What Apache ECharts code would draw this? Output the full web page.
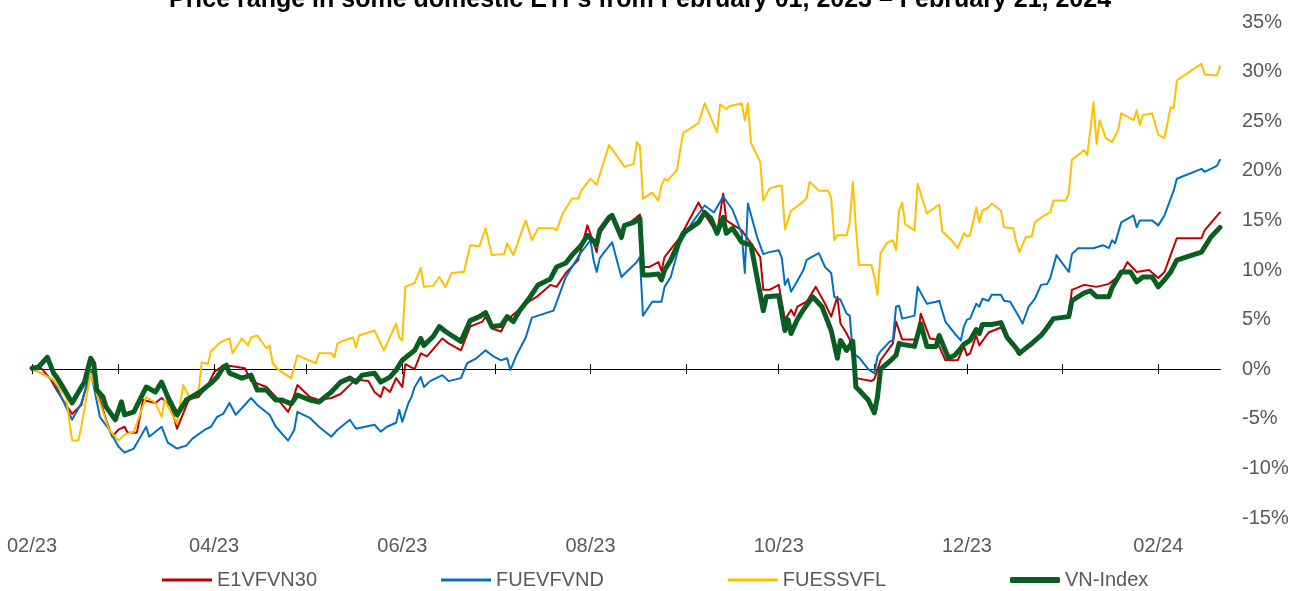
<!DOCTYPE html>
<html>
<head>
<meta charset="utf-8">
<title>ETF price range</title>
<script src="https://cdn.jsdelivr.net/npm/echarts@6/dist/echarts.min.js"></script>
<style>
	html, body { margin: 0; padding: 0; background: #fff; }
	#chart { width: 1299px; height: 591px; }
</style>
</head>
<body>
<div id="chart"></div>
<script>
// x values are day offsets counted from 01/02/2023, values are % change
var START = new Date(2023, 1, 1).getTime();
var DAY = 86400000;

var seriesNames = ["E1VFVN30", "FUEVFVND", "FUESSVFL", "VN-Index"];
var monthTicks = [0, 28, 59, 89, 120, 150, 181, 212, 242, 273, 303, 334, 365];
var labelTicks = [0, 59, 120, 181, 242, 303, 365];

var e1vfvn30 = [
	[0,-0.1],[3,0.1],[6,-1.0],[8,-2.1],[11,-3.6],[13,-4.5],[16,-3.6],[17,-2.4],[20,0.2],[21,-2.0],
	[24,-5.1],[26,-6.8],[28,-6.1],[30,-5.8],[31,-6.4],[34,-6.4],[36,-3.1],[40,-3.4],[42,-2.9],[45,-3.7],
	[47,-6.0],[50,-3.7],[51,-3.0],[54,-2.8],[57,-1.6],[59,-0.3],[62,0.4],[65,0.3],[69,0.1],[71,-1.2],
	[76,-1.8],[79,-2.8],[83,-4.3],[84,-3.6],[86,-1.6],[90,-2.8],[93,-3.1],[97,-2.9],[100,-2.5],[105,-1.0],
	[106,-1.1],[109,-1.2],[111,-2.3],[113,-2.8],[114,-1.8],[116,-2.3],[118,-0.9],[120,-1.8],[121,0.5],[124,0.0],
	[126,1.6],[128,1.3],[133,3.1],[135,2.6],[139,1.9],[142,4.3],[146,4.8],[147,5.3],[149,4.1],[152,3.8],
	[154,5.0],[161,6.8],[164,7.4],[168,8.5],[170,8.3],[173,9.7],[177,11.0],[180,14.5],[183,11.8],[184,13.7],
	[187,15.0],[188,15.3],[191,13.1],[192,14.3],[197,15.6],[198,10.3],[200,10.3],[203,10.8],[204,9.9],[205,11.3],
	[210,13.3],[216,16.8],[218,15.6],[222,13.7],[224,17.7],[225,15.0],[230,14.0],[233,12.7],[236,11.3],[237,8.0],
	[239,8.0],[242,8.5],[244,5.0],[246,6.0],[247,5.4],[248,6.3],[251,6.8],[254,8.3],[257,6.6],[259,5.3],
	[261,7.3],[262,4.6],[264,3.6],[265,3.0],[267,-0.9],[272,-1.2],[273,-1.0],[275,0.9],[279,2.6],[280,4.8],
	[282,3.0],[287,3.0],[288,5.6],[291,3.1],[293,3.0],[296,0.9],[300,0.9],[302,2.3],[303,1.4],[304,1.6],
	[306,3.4],[307,2.4],[310,3.7],[314,4.2],[316,3.2],[320,1.6],[324,2.4],[327,3.4],[331,5.1],[336,5.3],
	[337,8.0],[341,8.5],[345,8.3],[349,8.6],[353,9.6],[355,10.8],[358,9.8],[362,10.0],[365,9.2],[367,9.8],
	[369,11.5],[371,13.2],[379,13.2],[380,14.0],[385,15.8]
];

var fuevfvnd = [
	[0,0.0],[3,-0.4],[7,-1.1],[11,-3.8],[13,-5.1],[16,-3.4],[19,-0.2],[22,-4.8],[25,-6.1],[28,-7.8],
	[30,-8.4],[33,-8.0],[37,-5.8],[38,-6.8],[42,-5.8],[44,-7.4],[47,-8.0],[50,-7.7],[52,-7.0],[56,-6.1],
	[58,-5.8],[60,-4.8],[62,-4.5],[64,-3.4],[66,-4.6],[71,-2.9],[73,-3.6],[77,-4.6],[79,-5.8],[83,-7.2],
	[85,-6.1],[86,-4.3],[90,-4.9],[93,-5.8],[97,-6.8],[99,-6.1],[103,-5.1],[105,-6.0],[111,-5.6],[113,-6.3],
	[115,-5.8],[118,-5.4],[119,-4.1],[120,-5.3],[122,-3.4],[123,-2.8],[124,-1.8],[126,-0.8],[127,-1.8],[129,-1.2],
	[133,-0.6],[135,-1.2],[139,-0.9],[141,0.6],[144,1.1],[147,1.9],[149,1.4],[152,0.9],[154,1.1],[155,-0.1],
	[157,1.4],[160,3.2],[162,5.2],[167,5.7],[169,5.9],[171,7.6],[173,9.3],[175,10.3],[178,11.8],[181,13.0],
	[182,11.0],[183,9.8],[184,11.2],[188,12.8],[191,9.3],[196,10.8],[197,11.3],[198,5.4],[201,6.8],[204,6.8],
	[205,8.3],[207,9.3],[210,12.7],[214,14.8],[218,16.5],[221,15.8],[224,17.4],[227,16.1],[230,13.7],[231,9.7],
	[232,16.7],[235,13.3],[237,11.6],[239,11.8],[242,12.0],[243,11.2],[244,8.5],[245,9.1],[246,7.8],[248,8.9],
	[250,10.0],[251,11.0],[252,11.2],[255,11.7],[257,10.3],[259,9.7],[260,7.3],[262,7.0],[264,5.6],[265,5.4],
	[266,1.6],[268,1.2],[271,0.0],[273,-0.4],[274,1.3],[275,1.8],[278,2.8],[279,2.9],[280,6.3],[281,6.4],
	[282,5.1],[286,5.4],[287,8.3],[290,6.6],[293,6.8],[294,6.9],[296,4.8],[299,3.6],[301,2.9],[302,4.3],
	[303,5.0],[304,5.1],[306,6.6],[307,6.3],[308,7.1],[310,6.9],[311,7.5],[314,7.5],[315,6.9],[317,6.8],
	[320,5.2],[321,4.6],[323,6.3],[325,7.1],[327,8.5],[329,8.6],[330,9.2],[332,11.5],[336,9.8],[337,11.6],
	[339,12.2],[344,12.2],[347,12.5],[349,12.2],[350,13.0],[351,12.7],[353,14.8],[357,15.5],[358,14.3],[359,15.0],
	[363,15.0],[365,14.5],[367,15.5],[370,18.0],[371,19.2],[379,20.2],[380,19.9],[384,20.5],[385,21.1]
];

var fuessvfl = [
	[0,0.0],[3,-0.4],[7,-1.1],[11,-2.8],[13,-7.2],[15,-7.2],[16,-5.8],[19,-0.4],[21,-2.5],[25,-6.1],
	[28,-7.2],[30,-6.6],[33,-6.3],[37,-2.8],[40,-3.4],[42,-4.8],[43,-3.1],[47,-5.5],[49,-1.6],[51,-2.8],
	[54,-2.1],[55,0.7],[57,0.5],[58,1.8],[60,2.4],[61,2.7],[64,3.1],[65,1.6],[68,3.1],[70,2.4],
	[71,3.2],[73,3.4],[76,2.1],[77,2.4],[78,0.6],[80,-0.1],[84,-0.9],[86,1.4],[92,0.6],[93,1.6],
	[97,1.6],[98,1.2],[99,2.6],[101,2.9],[104,3.2],[105,2.2],[106,3.4],[111,3.9],[114,1.9],[118,4.6],
	[119,3.2],[120,2.9],[121,8.3],[124,8.7],[126,10.2],[127,8.3],[130,8.4],[132,9.3],[134,8.3],[136,9.7],
	[139,9.8],[140,9.8],[142,12.5],[145,12.4],[147,14.2],[149,11.5],[153,11.6],[154,12.7],[156,11.5],[160,15.0],
	[162,13.0],[164,14.2],[169,14.2],[170,14.0],[172,15.7],[174,16.7],[175,17.2],[177,17.2],[178,18.0],[181,19.2],
	[183,18.6],[187,22.6],[190,21.3],[192,20.4],[195,20.7],[196,22.9],[197,22.5],[198,17.2],[201,17.8],[203,17.0],
	[204,18.5],[205,19.2],[206,19.0],[209,20.1],[211,23.8],[216,24.8],[218,26.8],[222,23.9],[223,26.7],[225,26.2],
	[226,26.5],[230,26.8],[231,25.1],[232,26.8],[233,22.8],[236,20.9],[237,17.0],[239,18.2],[242,18.5],[243,18.5],
	[244,14.1],[246,16.0],[248,16.4],[251,17.2],[252,18.9],[255,18.0],[258,18.0],[259,17.3],[260,13.0],[261,13.5],
	[264,13.5],[265,14.8],[266,18.9],[267,14.3],[268,10.5],[272,10.5],[273,9.3],[274,7.5],[275,11.7],[277,12.7],
	[279,13.0],[280,12.0],[281,16.0],[282,16.8],[283,14.6],[286,14.0],[287,18.7],[290,15.7],[294,16.6],[295,13.9],
	[298,13.0],[300,12.2],[302,13.7],[303,13.4],[304,13.5],[306,16.3],[307,14.8],[308,16.0],[310,16.3],[311,16.7],
	[314,16.0],[315,14.3],[318,14.2],[319,12.8],[320,11.8],[322,13.3],[324,13.4],[325,14.8],[328,15.5],[330,15.8],
	[331,17.0],[335,17.0],[336,17.7],[337,21.1],[341,22.1],[342,21.6],[344,26.9],[345,22.7],[346,25.1],[348,23.3],
	[350,22.9],[352,24.1],[353,25.8],[357,25.1],[358,26.1],[359,24.6],[360,25.6],[363,25.8],[365,23.6],[367,23.3],
	[369,26.4],[370,26.3],[371,29.1],[379,30.8],[380,29.7],[384,29.6],[385,30.5]
];

var vnIndex = [
	[0,0.1],[2,0.2],[5,1.2],[7,-0.4],[8,-0.8],[10,-1.8],[13,-3.4],[16,-1.8],[17,-1.3],[19,1.1],
	[20,0.6],[21,-2.1],[23,-2.8],[24,-3.8],[27,-5.1],[29,-3.3],[30,-4.6],[33,-4.3],[37,-1.8],[40,-2.3],
	[42,-1.3],[44,-2.8],[47,-4.6],[50,-3.1],[54,-2.4],[58,-1.4],[60,-0.8],[62,0.2],[63,0.4],[64,-0.4],
	[68,-0.9],[71,-0.6],[73,-2.1],[76,-2.1],[79,-3.1],[81,-3.1],[84,-3.5],[86,-2.6],[90,-3.1],[93,-3.3],
	[97,-2.3],[100,-1.3],[103,-0.9],[105,-1.3],[107,-0.6],[111,-0.4],[113,-1.3],[116,-0.8],[118,-0.1],[120,0.9],
	[122,1.4],[124,1.9],[126,3.1],[127,2.4],[130,3.3],[132,4.3],[134,3.8],[139,2.8],[142,4.9],[145,5.3],
	[147,5.7],[149,4.3],[152,4.4],[154,5.3],[156,4.8],[158,5.9],[161,7.1],[164,8.5],[168,9.1],[170,10.3],
	[173,10.7],[175,11.5],[178,12.5],[180,13.5],[183,12.6],[184,14.0],[187,15.3],[188,15.5],[191,13.3],[192,14.5],
	[195,14.8],[197,15.2],[198,9.5],[200,9.5],[203,9.6],[204,9.0],[205,10.0],[207,11.0],[211,13.7],[216,14.8],
	[218,15.8],[220,15.2],[222,13.7],[224,15.3],[225,13.7],[227,14.2],[230,12.8],[233,12.5],[237,5.9],[238,7.3],
	[242,7.4],[244,3.9],[245,5.0],[246,3.6],[248,5.0],[250,6.0],[253,7.3],[256,6.3],[259,3.9],[261,1.1],
	[262,2.9],[264,1.9],[266,2.8],[267,-1.8],[268,-2.1],[271,-3.1],[273,-4.4],[274,-2.8],[275,0.0],[278,0.8],
	[280,1.4],[281,2.6],[282,2.5],[286,2.3],[288,4.6],[290,2.3],[293,2.3],[294,3.4],[297,1.1],[299,1.4],
	[301,2.1],[302,2.5],[304,2.9],[306,4.0],[307,3.6],[308,4.5],[311,4.5],[314,4.7],[316,3.2],[319,2.1],
	[320,1.6],[324,2.6],[327,3.4],[329,4.2],[331,5.1],[336,5.3],[337,6.9],[341,7.7],[343,7.9],[345,7.3],
	[349,7.3],[350,8.2],[353,9.8],[356,9.8],[358,8.8],[360,9.3],[363,9.3],[365,8.3],[367,9.0],[369,9.8],
	[371,11.0],[379,11.8],[382,13.3],[385,14.3]
];

var colors = ["#C00000", "#0070C0", "#FFC000", "#0B5E22"];
var widths = [2, 2, 2, 5];

function buildSeries(name, points, index) {
	return {
		name: name,
		type: "line",
		symbol: "none",
		xAxisIndex: 0,
		yAxisIndex: 0,
		data: points,
		lineStyle: {
			color: colors[index],
			width: widths[index],
			join: "round",
			cap: "round"
		},
		itemStyle: { color: colors[index] },
		z: 2 + index
	};
}

//day offset -> "MM/yy"
function monthLabel(val) {
	var d = new Date(START + val * DAY + DAY / 2);
	var m = d.getMonth() + 1;
	return (m < 10 ? "0" + m : "" + m) + "/" + String(d.getFullYear()).slice(2);
}

var FONT = "'Liberation Sans', Arial, sans-serif";
var xMin = 0;
var xMax = 385;

// zero line axes: one with ticks upward, one with ticks downward
function zeroAxis(inside, yIndex) {
	return {
		type: "value",
		min: xMin,
		max: xMax,
		position: "bottom",
		axisLine: {
			show: true,
			onZero: true,
			onZeroAxisIndex: yIndex,
			lineStyle: { color: "#000", width: 1 }
		},
		axisTick: {
			show: true,
			inside: inside,
			length: 5,
			customValues: monthTicks,
			lineStyle: { color: "#000", width: 1 }
		},
		axisLabel: { show: false },
		splitLine: { show: false }
	};
}

function legendOf(names, left, thick) {
	return {
		data: names.map(n => ({ name: n, icon: thick ? "roundRect" : "rect" })),
		left: left,
		top: 570,
		padding: 0,
		itemWidth: 50,
		itemHeight: thick ? 6 : 3,
		itemGap: 124,
		textStyle: { fontFamily: FONT, fontSize: 20, color: "#595959" }
	};
}

var chart = echarts.init(document.getElementById("chart"), null, { renderer: "canvas" });

var option = {
	animation: false,
	backgroundColor: "#fff",
	color: colors,
	title: {
		text: "Price range in some domestic ETFs from February 01, 2023 \u2013 February 21, 2024",
		left: 640,
		top: -12,
		padding: 0,
		textAlign: "center",
		textStyle: { fontFamily: FONT, fontSize: 25, fontWeight: "bold", color: "#000" }
	},
	legend: [
		legendOf(seriesNames.slice(0, 3), 162, false),
		legendOf(seriesNames.slice(3), 1010, true)
	],
	grid: {
		left: 32,
		right: 79,
		top: 22,
		bottom: 73,
		containLabel: false
	},
	xAxis: [{
		type: "value",
		min: xMin,
		max: xMax,
		position: "bottom",
		axisLine: { show: false, onZero: false },
		axisTick: { show: false },
		axisLabel: {
			show: true,
			customValues: labelTicks,
			formatter: monthLabel,
			margin: 18,
			fontFamily: FONT,
			fontSize: 20,
			color: "#595959",
			hideOverlap: false
		},
		splitLine: { show: false }
	}, zeroAxis(true, 0), zeroAxis(false, 1)],
	yAxis: [{
		type: "value",
		position: "right",
		min: -15,
		max: 35,
		interval: 5,
		axisLine: { show: false },
		axisTick: { show: false },
		splitLine: { show: false },
		axisLabel: {
			formatter: "{value}%",
			margin: 22,
			fontFamily: FONT,
			fontSize: 20,
			color: "#595959"
		}
	}, {
		// hidden copy, only used to put the second zero-line axis on 0
		type: "value",
		show: false,
		min: -15,
		max: 35,
		interval: 5
	}],
	series: [
		buildSeries(seriesNames[0], e1vfvn30, 0),
		buildSeries(seriesNames[1], fuevfvnd, 1),
		buildSeries(seriesNames[2], fuessvfl, 2),
		buildSeries(seriesNames[3], vnIndex, 3)
	]
};

chart.setOption(option);
</script>
</body>
</html>
